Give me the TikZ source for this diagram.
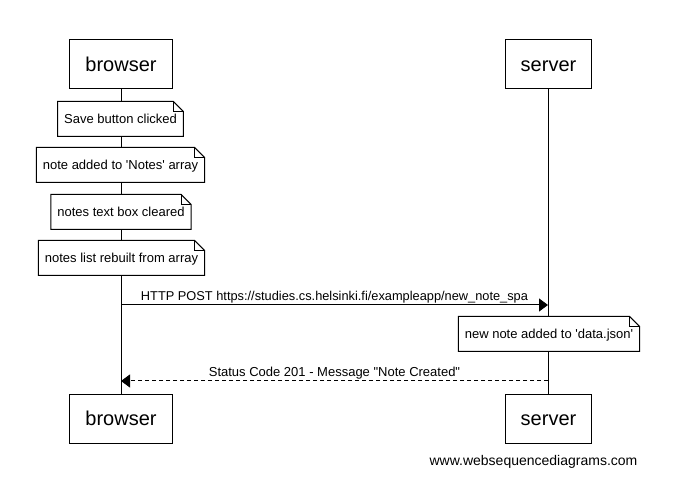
\documentclass[tikz,border=0pt]{standalone}
\usepackage{fontspec}
\setmainfont{Liberation Sans}
\usetikzlibrary{arrows.meta}

\begin{document}
\begin{tikzpicture}[x = 1pt, y = -1pt, line width = 1pt,
                    actor/.style = {rectangle, draw, fill = white, inner xsep = 15.5pt, minimum height = 49pt,
                                    text height = 16pt, text depth = 2pt,
                                    font = \fontsize{20}{24}\selectfont},
                    note/.style = {rectangle, minimum height = 34pt, inner xsep = 6pt,
                                   text height = 10.5pt, text depth = 0.5pt,
                                   font = \fontsize{13}{15}\selectfont,
                                   append after command = {\pgfextra{
                                     \filldraw [fill = white] (\tikzlastnode.north west) -- ([xshift = -10pt]\tikzlastnode.north east)
                                       -- ([yshift = -10pt]\tikzlastnode.north east) -- (\tikzlastnode.south east)
                                       -- (\tikzlastnode.south west) -- cycle;
                                     \draw ([xshift = -10pt]\tikzlastnode.north east) |- ([yshift = -10pt]\tikzlastnode.north east);}}},
                    msg/.style = {font = \fontsize{13}{15}\selectfont}]
  \useasboundingbox (0,0) rectangle (683,494);

  \node [actor] (B1) at (121,64.5) {browser};
  \node [actor] (S1) at (548.5,64.5) {server};
  \node [actor] (B2) at (121,418.5) {browser};
  \node [actor] (S2) at (548.5,418.5) {server};
  \draw (B1) -- (B2);
  \draw (S1) -- (S2);

  \node [note] (N1) at (120.5,119) {Save button clicked};
  \node [note] (N2) at (120.5,165) {note added to \textquotesingle Notes\textquotesingle{} array};
  \node [note] (N3) at (121,212) {notes text box cleared};
  \node [note] (N4) at (121.5,258) {notes list rebuilt from array};
  \node [note] (N5) at (549,334) {new note added to \textquotesingle data.json\textquotesingle};

  \coordinate (P1) at (121,305);
  \coordinate (P2) at (548,305);
  \coordinate (R1) at (548,381);
  \coordinate (R2) at (121,381);
  \draw [-{Triangle[length = 9pt, width = 13pt]}] (P1) -- (P2)
    node [msg, font = \fontsize{12.8}{15}\selectfont, midway, above = -2pt] {HTTP POST https://studies.cs.helsinki.fi/exampleapp/new\_note\_spa};
  \draw [dash pattern = on 4pt off 3pt, -{Triangle[length = 9pt, width = 13pt]}] (R1) -- (R2)
    node [msg, midway, above = -2pt] {Status Code 201 - Message \textquotedbl Note Created\textquotedbl};

  \node [font = \fontsize{14}{17}\selectfont] (W) at (533.5,462) {www.websequencediagrams.com};
\end{tikzpicture}
\end{document}
